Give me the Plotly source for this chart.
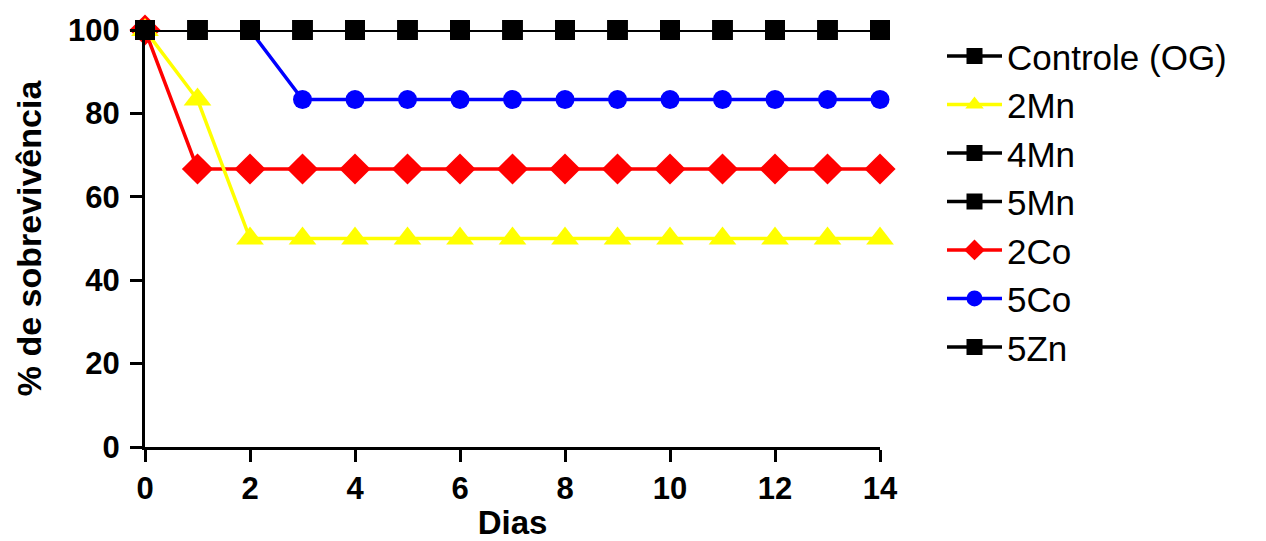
import plotly.graph_objects as go

dias = list(range(15))

controle = [100] * 15
mn2 = [100, 83.33] + [50] * 13
mn4 = [100] * 15
mn5 = [100] * 15
co2 = [100] + [66.67] * 14
co5 = [100, 100, 100] + [83.33] * 12
zn5 = [100] * 15

series = [
    ("Controle (OG)", controle, "black", "square", 20),
    ("2Mn", mn2, "#ffff00", "triangle-up", 24),
    ("4Mn", mn4, "black", "square", 20),
    ("5Mn", mn5, "black", "square", 20),
    ("2Co", co2, "#ff0000", "diamond", 24),
    ("5Co", co5, "#0000ff", "circle", 19),
    ("5Zn", zn5, "black", "square", 20),
]

# drawing order (later = on top); legend keeps listed order via legendrank
draw_order = ["2Co", "2Mn", "5Co", "5Zn", "5Mn", "4Mn", "Controle (OG)"]
lookup = {s[0]: (i, s) for i, s in enumerate(series)}

fig = go.Figure()
for name in draw_order:
    rank, (nm, ys, col, sym, sz) = lookup[name]
    fig.add_trace(go.Scatter(
        x=dias, y=ys, name=nm, mode="lines+markers",
        line=dict(color=col, width=3.5),
        marker=dict(symbol=sym, size=sz, color=col, line=dict(width=0)),
        cliponaxis=False, legendrank=rank + 1, legendgroup=nm,
    ))

W, H = 1266, 541
ML, MR, MT, MB = 145, 386, 30, 94

tick_font = dict(family="Liberation Sans", size=31, color="black", weight="bold")
title_font = dict(family="Liberation Sans", size=33, color="black", weight="bold")
fig.update_layout(
    width=W, height=H,
    paper_bgcolor="white", plot_bgcolor="white",
    margin=dict(l=ML, r=MR, t=MT, b=MB, autoexpand=False),
    font=dict(family="Liberation Sans", color="black"),
    xaxis=dict(
        range=[0, 14], tickvals=list(range(0, 15, 2)),
        showgrid=False, zeroline=False, showline=True,
        linecolor="black", linewidth=3, ticks="outside", ticklen=12,
        tickwidth=3, tickcolor="black", tickfont=tick_font,
        title=dict(text="Dias", font=title_font, standoff=10),
    ),
    yaxis=dict(
        range=[0, 100], tickvals=list(range(0, 101, 20)),
        showgrid=False, zeroline=False, showline=True,
        linecolor="black", linewidth=3, ticks="outside", ticklen=12,
        tickwidth=3, tickcolor="black", tickfont=tick_font,
        ticklabelstandoff=4,
        title=dict(text="% de sobrevivência", font=dict(title_font, size=34), standoff=17),
    ),
    legend=dict(
        x=(942 - ML) / (W - ML - MR), xanchor="left",
        y=1.008, yanchor="top",
        xref="paper", yref="paper",
        font=dict(family="Liberation Sans", size=35, color="black"),
        traceorder="grouped", tracegroupgap=0,
        itemwidth=55, bgcolor="rgba(0,0,0,0)",
        maxheight=520,
    ),
)

fig.write_html("out.html")
